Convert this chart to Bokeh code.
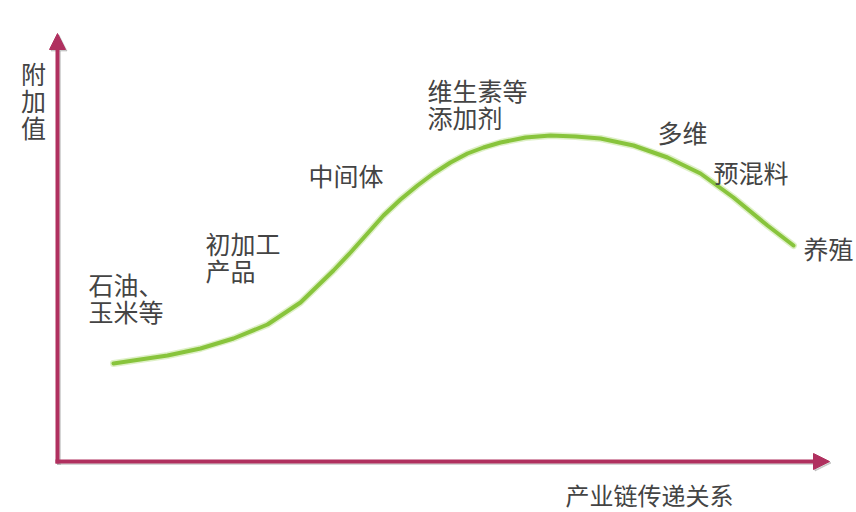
from bokeh.plotting import figure
from bokeh.models import Range1d, Arrow, NormalHead, ColumnDataSource
from bokeh.core.properties import value
from bokeh.embed import file_html
from bokeh.resources import INLINE

# Curve: position along the industry chain vs. added value
chain_pos = [56, 76, 110, 143, 176, 210, 243, 276, 293, 310, 326, 343, 360, 376,
             393, 410, 426, 443, 468, 493, 518, 543, 576, 610, 643, 676, 710, 736]
added_value = [98, 101, 106, 113, 123, 137, 159, 191, 209, 228, 246, 262, 276, 288,
               299, 308, 314, 319, 324, 326, 325, 323, 316, 304, 288, 264, 236, 216]

# Stage labels
stage_text = ["石油、\n玉米等", "初加工\n产品", "中间体", "维生素等\n添加剂", "多维", "预混料", "养殖"]
stage_x = [31, 148, 251, 370, 600, 656, 746]
stage_y = [164.5, 205.5, 287, 358, 330, 290, 214]

x_axis_title = "产业链传递关系"
y_axis_title = "附加值"

FONT = "Noto Sans CJK SC"
TXT = "#444444"
AXC = "#b0305f"
LH = 0.75

p = figure(width=856, height=512, output_backend="svg", toolbar_location=None,
           x_range=Range1d(-57, 799), y_range=Range1d(-51, 461),
           min_border=0, outline_line_color=None)
p.axis.visible = False
p.grid.visible = False
p.background_fill_color = "white"
p.border_fill_color = "white"

# axes with arrows (shadow first)
for dx, dy, col, alpha in [(1.5, -1.5, "#888888", 0.35), (0, 0, AXC, 1.0)]:
    p.add_layout(Arrow(x_start=0 + dx, y_start=-2 + dy, x_end=0 + dx, y_end=428 + dy,
                       line_color=col, line_width=4, line_alpha=alpha,
                       end=NormalHead(size=16, fill_color=col, line_color=col,
                                      fill_alpha=alpha, line_alpha=alpha)))
    p.add_layout(Arrow(x_start=-2 + dx, y_start=0 + dy, x_end=772 + dx, y_end=0 + dy,
                       line_color=col, line_width=4, line_alpha=alpha,
                       end=NormalHead(size=16, fill_color=col, line_color=col,
                                      fill_alpha=alpha, line_alpha=alpha)))

# curve (soft glow + main line)
p.line(chain_pos, added_value, line_color="#c8e6a0", line_width=7, line_alpha=0.6,
       line_cap="round", line_join="round")
p.line(chain_pos, added_value, line_color="#88c43c", line_width=4,
       line_cap="round", line_join="round")

src = ColumnDataSource(dict(x=stage_x, y=stage_y, t=stage_text))
p.text(x="x", y="y", text="t", source=src, text_font=value(FONT),
       text_font_size="25px", text_color=TXT, text_align="left",
       text_baseline="middle", text_line_height=LH)

p.text(x=[-24], y=[362], text=["\n".join(y_axis_title)], text_font=value(FONT),
       text_font_size="25px", text_color=TXT, text_align="center",
       text_baseline="middle", text_line_height=LH)
p.text(x=[508], y=[-33], text=[x_axis_title], text_font=value(FONT),
       text_font_size="24px", text_color=TXT, text_align="left",
       text_baseline="middle", text_line_height=LH)

open("out.html", "w").write(file_html(p, INLINE))
